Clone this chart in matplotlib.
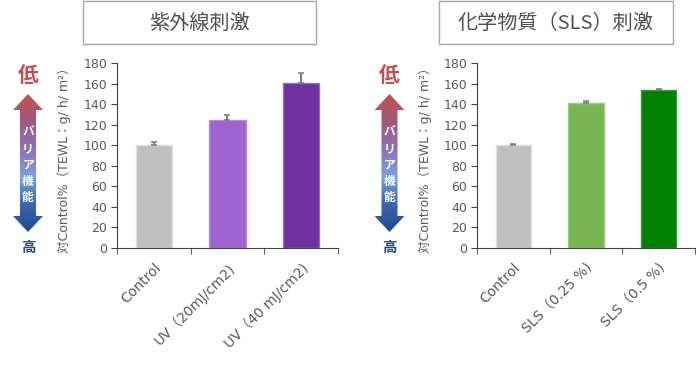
import numpy as np
import matplotlib
matplotlib.use("Agg")
import matplotlib.pyplot as plt
from matplotlib.patches import Polygon, Rectangle
from matplotlib.colors import LinearSegmentedColormap

plt.rcParams['font.family'] = ['DejaVu Sans', 'Noto Sans CJK JP']

# data
uv_labels = ["Control", "UV（20mJ/cm2)", "UV（40 mJ/cm2)"]
uv_values = [100, 125, 161]
uv_errors = [3, 4, 9]
uv_colors = ["#BFBFBF", "#A064D2", "#7030A0"]
uv_edges = ["#E0E0E0", "#B98AE0", "#9A6CC4"]

sls_labels = ["Control", "SLS（0.25 %)", "SLS（0.5 %)"]
sls_values = [100, 141.5, 154]
sls_errors = [1, 2, 1]
sls_colors = ["#BFBFBF", "#78B450", "#008000"]
sls_edges = ["#E0E0E0", "#9CCB7E", "#3A9A3A"]

titles = ["紫外線刺激", "化学物質（SLS）刺激"]
ylabel = "対Control%（TEWL：g/ h/ m²）"
yticks = [0, 20, 40, 60, 80, 100, 120, 140, 160, 180]

W, H = 700, 378
fig = plt.figure(figsize=(7, 3.78), dpi=100)

# overlay in pixel coordinates for boxes and arrows
ov = fig.add_axes([0, 0, 1, 1], zorder=0)
ov.set_xlim(0, W)
ov.set_ylim(H, 0)
ov.axis("off")

grad = LinearSegmentedColormap.from_list(
    "barrier", ["#C4504E", "#A05A80", "#8E72B8", "#78A2E0", "#3B66AE", "#1F4A8A"])


def draw_arrow(cx, top=94, bottom=232):
    hw, sw, hh = 15, 8, 16
    pts = [(cx, top), (cx + hw, top + hh), (cx + sw, top + hh),
           (cx + sw, bottom - hh), (cx + hw, bottom - hh), (cx, bottom),
           (cx - hw, bottom - hh), (cx - sw, bottom - hh), (cx - sw, top + hh),
           (cx - hw, top + hh)]
    poly = Polygon(pts, closed=True, facecolor="none", edgecolor="none")
    ov.add_patch(poly)
    img = ov.imshow(np.linspace(0, 1, 200).reshape(-1, 1), cmap=grad, aspect="auto",
                    extent=(cx - hw, cx + hw, bottom, top), zorder=1)
    img.set_clip_path(poly)
    ov.text(cx, 76, "低", color="#C0504D", fontsize=15, fontweight="bold",
            ha="center", va="center", family=["Noto Sans CJK JP"])
    ov.text(cx, 247, "高", color="#1F4E79", fontsize=10.5, fontweight="bold",
            ha="center", va="center", family=["Noto Sans CJK JP"])
    for i, ch in enumerate("バリア機能"):
        ov.text(cx, 132 + i * 16.5, ch, color="white", fontsize=8.5, fontweight="bold",
                ha="center", va="center", family=["Noto Sans CJK JP"], zorder=3)


def draw_title(x0, x1, text):
    ov.add_patch(Rectangle((x0, 1), x1 - x0, 43, facecolor="white",
                           edgecolor="#A6A6A6", lw=1))
    ov.text((x0 + x1) / 2, 23, text, fontsize=14.5, color="#505050",
            ha="center", va="center", family=["Noto Sans CJK JP", "DejaVu Sans"])


def draw_panel(x0, x1, labels, values, errors, colors, edges):
    ax = fig.add_axes([x0 / W, (H - 248) / H, (x1 - x0) / W, (248 - 63) / H], zorder=2)
    ax.patch.set_alpha(0)
    x = np.arange(len(values))
    ax.bar(x, values, width=0.49, color=colors, edgecolor=edges, linewidth=1,
           yerr=[[0] * len(errors), errors], ecolor="#7F7F7F",
           error_kw=dict(capsize=2.5, elinewidth=1.5, capthick=1.2))
    ax.set_xlim(-0.5, len(values) - 0.5)
    ax.set_ylim(0, 180)
    ax.set_yticks(yticks)
    for s in ["top", "right"]:
        ax.spines[s].set_visible(False)
    for s in ["left", "bottom"]:
        ax.spines[s].set_color("#404040")
    ax.tick_params(axis="y", colors="#404040", labelcolor="#595959", labelsize=9,
                   length=4, pad=3)
    ax.set_xticks(x)
    ax.set_xticklabels(labels, rotation=45, ha="right", rotation_mode="anchor",
                       fontsize=10, color="#595959")
    ax.tick_params(axis="x", which="major", length=0, pad=9)
    ax.set_xticks(np.arange(len(values) + 1) - 0.5, minor=True)
    ax.tick_params(axis="x", which="minor", length=4, color="#404040")
    ax.set_ylabel(ylabel, fontsize=9, color="#595959")
    ax.yaxis.set_label_coords(-0.208, 0.49)
    return ax


draw_title(83, 316, titles[0])
draw_title(439, 673, titles[1])
draw_arrow(28)
draw_arrow(389.5)
draw_panel(117, 338, uv_labels, uv_values, uv_errors, uv_colors, uv_edges)
draw_panel(477, 695, sls_labels, sls_values, sls_errors, sls_colors, sls_edges)

fig.savefig("out.png", dpi=100)
